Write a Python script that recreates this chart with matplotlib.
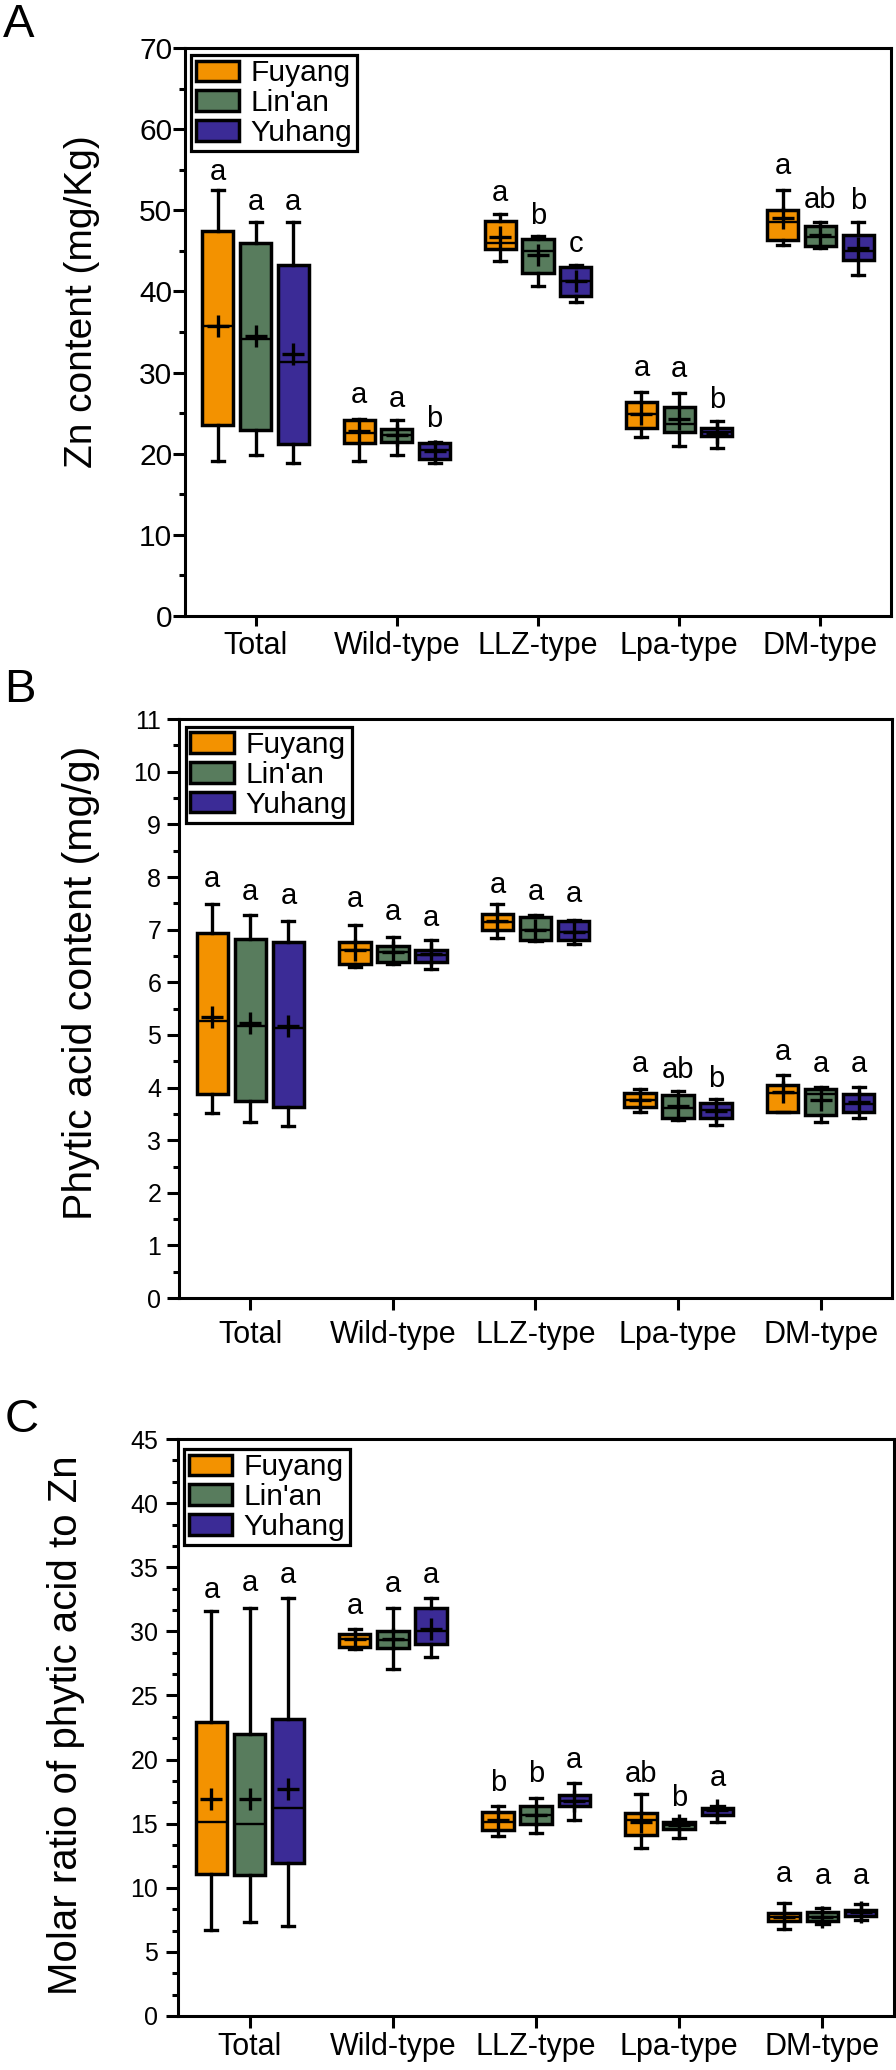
import matplotlib.pyplot as plt
from matplotlib.patches import Patch
from matplotlib.ticker import MultipleLocator, AutoMinorLocator

plt.rcParams['font.family'] = ['Liberation Sans', 'DejaVu Sans']

categories = ["Total", "Wild-type", "LLZ-type", "Lpa-type", "DM-type"]
sites = ["Fuyang", "Lin'an", "Yuhang"]
site_colors = ["#F39200", "#587C5D", "#3B2B96"]

# rows: (whisker low, Q1, median, Q3, whisker high, mean) for each category
zn_fuyang = [(19.1, 23.6, 35.7, 47.4, 52.5, 35.8), (19.1, 21.3, 22.6, 24.1, 24.3, 22.8),
             (43.7, 45.2, 46.0, 48.7, 49.6, 46.7), (22.1, 23.2, 24.9, 26.4, 27.6, 24.9),
             (45.7, 46.4, 48.6, 50.0, 52.5, 49.0)]
zn_linan = [(19.8, 22.9, 34.1, 46.0, 48.6, 34.5), (19.8, 21.5, 22.3, 23.0, 24.1, 22.3),
            (40.7, 42.3, 45.0, 46.5, 46.8, 44.5), (20.9, 22.7, 23.7, 25.8, 27.5, 24.3),
            (45.3, 45.6, 46.7, 48.1, 48.6, 46.9)]
zn_yuhang = [(18.9, 21.2, 31.3, 43.2, 48.6, 32.3), (18.9, 19.4, 20.5, 21.3, 21.5, 20.3),
             (38.7, 39.5, 41.3, 43.0, 43.2, 41.3), (20.7, 22.2, 22.7, 23.2, 24.0, 22.6),
             (42.0, 43.9, 45.0, 46.9, 48.6, 45.4)]
zn_letters = [["a", "a", "a", "a", "a"], ["a", "a", "b", "a", "ab"], ["a", "b", "c", "b", "b"]]
zn_letter_y = [[54.7, 27.2, 52.1, 30.6, 55.5], [51.0, 26.7, 49.3, 30.4, 51.3], [51.0, 24.3, 45.8, 26.6, 51.1]]

pa_fuyang = [(3.51, 3.87, 5.27, 6.94, 7.48, 5.34), (6.29, 6.35, 6.62, 6.77, 7.08, 6.62),
             (6.85, 6.99, 7.15, 7.30, 7.48, 7.16), (3.53, 3.63, 3.77, 3.89, 3.97, 3.77),
             (3.53, 3.53, 3.89, 4.05, 4.23, 3.92)]
pa_linan = [(3.34, 3.75, 5.17, 6.82, 7.27, 5.23), (6.35, 6.38, 6.57, 6.69, 6.86, 6.57),
            (6.78, 6.80, 7.00, 7.24, 7.27, 7.00), (3.39, 3.43, 3.61, 3.85, 3.93, 3.65),
            (3.35, 3.47, 3.88, 3.97, 4.01, 3.76)]
pa_yuhang = [(3.27, 3.63, 5.14, 6.76, 7.16, 5.17), (6.26, 6.38, 6.51, 6.61, 6.80, 6.53),
             (6.73, 6.80, 6.96, 7.16, 7.18, 6.96), (3.29, 3.43, 3.57, 3.71, 3.79, 3.55),
             (3.43, 3.53, 3.69, 3.87, 4.01, 3.73)]
pa_letters = [["a", "a", "a", "a", "a"], ["a", "a", "a", "ab", "a"], ["a", "a", "a", "b", "a"]]
pa_letter_y = [[7.96, 7.58, 7.84, 4.45, 4.67], [7.71, 7.34, 7.71, 4.33, 4.45], [7.63, 7.23, 7.67, 4.17, 4.45]]

mr_fuyang = [(6.7, 11.1, 15.1, 22.9, 31.6, 16.9), (28.6, 28.8, 29.4, 29.8, 30.2, 29.4),
             (14.0, 14.5, 15.1, 15.9, 16.4, 15.3), (13.1, 14.1, 15.3, 15.8, 17.3, 15.1),
             (6.8, 7.4, 7.7, 8.0, 8.8, 7.7)]
mr_linan = [(7.3, 11.0, 15.0, 22.0, 31.8, 16.9), (27.1, 28.7, 29.3, 30.0, 31.8, 29.4),
            (14.3, 15.0, 15.7, 16.4, 17.0, 15.7), (13.9, 14.6, 14.9, 15.1, 15.4, 14.9),
            (7.2, 7.4, 7.7, 8.1, 8.4, 7.7)]
mr_yuhang = [(7.0, 11.9, 16.2, 23.2, 32.6, 17.7), (28.0, 29.0, 30.0, 31.8, 32.6, 30.2),
             (15.3, 16.4, 16.8, 17.2, 18.2, 16.8), (15.1, 15.7, 16.1, 16.2, 16.4, 16.1),
             (7.5, 7.8, 8.1, 8.3, 8.7, 8.1)]
mr_letters = [["a", "a", "b", "ab", "a"], ["a", "a", "b", "b", "a"], ["a", "a", "a", "a", "a"]]
mr_letter_y = [[33.2, 32.0, 18.2, 18.9, 11.1], [33.8, 33.7, 18.9, 17.0, 10.9], [34.4, 34.4, 20.0, 18.6, 10.9]]

offsets = [-0.267, 0.0, 0.267]


def draw_panel(ax, site_data, letters, letter_y):
    for i, (rows, color) in enumerate(zip(site_data, site_colors)):
        stats = [dict(whislo=r[0], q1=r[1], med=r[2], q3=r[3], whishi=r[4], mean=r[5]) for r in rows]
        positions = [k + 1 + offsets[i] for k in range(len(categories))]
        ax.bxp(stats, positions=positions, widths=0.22, capwidths=0.085, showmeans=True,
               showfliers=False, patch_artist=True, manage_ticks=False,
               boxprops=dict(facecolor=color, edgecolor="black", linewidth=2.5),
               whiskerprops=dict(color="black", linewidth=2.4),
               capprops=dict(color="black", linewidth=2.4),
               medianprops=dict(color="black", linewidth=1.7),
               meanprops=dict(marker="+", markersize=16, markeredgecolor="black", markeredgewidth=2.4))
        for x, y, t in zip(positions, letter_y[i], letters[i]):
            ax.text(x, y, t, ha="center", va="center", fontsize=21)


def style_axes(ax, ymax, major, minor_n, ylabel, ylabel_size, ylab_xy, ytick_size, ytick_pad, xtick_len, xtick_pad, leg_anchor):
    ax.set_xlim(0.5, 5.5)
    ax.set_ylim(0, ymax)
    ax.set_xticks(range(1, 6))
    ax.set_xticklabels(categories, fontsize=22)
    ax.yaxis.set_major_locator(MultipleLocator(major))
    ax.yaxis.set_minor_locator(AutoMinorLocator(minor_n))
    ax.tick_params(axis="y", which="major", direction="out", length=8.5, width=2.2, labelsize=ytick_size, pad=ytick_pad)
    ax.tick_params(axis="y", which="minor", direction="out", length=4.5, width=2.2)
    ax.tick_params(axis="x", which="major", direction="out", length=xtick_len, width=2.2, pad=xtick_pad)
    for s in ax.spines.values():
        s.set_linewidth(2.2)
    ax.set_ylabel(ylabel, fontsize=ylabel_size)
    ax.yaxis.set_label_coords(*ylab_xy)
    handles = [Patch(facecolor=c, edgecolor="black", linewidth=2.5, label=s) for s, c in zip(sites, site_colors)]
    leg = ax.legend(handles=handles, loc="upper left", bbox_to_anchor=leg_anchor, borderaxespad=0,
                    fontsize=21.5, fancybox=False, framealpha=1, edgecolor="black",
                    handlelength=1.45, handleheight=0.68, handletextpad=0.4, labelspacing=0.06,
                    borderpad=0.15)
    leg.get_frame().set_linewidth(2.3)


fig = plt.figure(figsize=(8.96, 20.7), dpi=100)

ax_a = fig.add_axes([0.2065, 0.7024, 0.7879, 0.2744])
draw_panel(ax_a, [zn_fuyang, zn_linan, zn_yuhang], zn_letters, zn_letter_y)
style_axes(ax_a, 70, 10, 2, "Zn content (mg/Kg)", 28, (-0.120, 0.553), 21.5, 0.7, 7, 4, (0.0085, 0.988))

ax_b = fig.add_axes([0.1998, 0.3729, 0.7957, 0.2797])
draw_panel(ax_b, [pa_fuyang, pa_linan, pa_yuhang], pa_letters, pa_letter_y)
style_axes(ax_b, 11, 1, 2, "Phytic acid content (mg/g)", 29.5, (-0.111, 0.544), 18, 4.3, 8.5, 7, (0.0098, 0.987))

ax_c = fig.add_axes([0.1987, 0.0261, 0.7991, 0.2787])
draw_panel(ax_c, [mr_fuyang, mr_linan, mr_yuhang], mr_letters, mr_letter_y)
style_axes(ax_c, 45, 5, 3, "Molar ratio of phytic acid to Zn", 29, (-0.130, 0.504), 18, 5.8, 8.5, 3, (0.0084, 0.983))

for label, (x, y) in zip(["A", "B", "C"], [(19, 25), (20, 690), (22, 1420)]):
    fig.text(x / 896, 1 - y / 2070, label, fontsize=34, ha="center", va="center")

fig.savefig("out.png", dpi=100)
